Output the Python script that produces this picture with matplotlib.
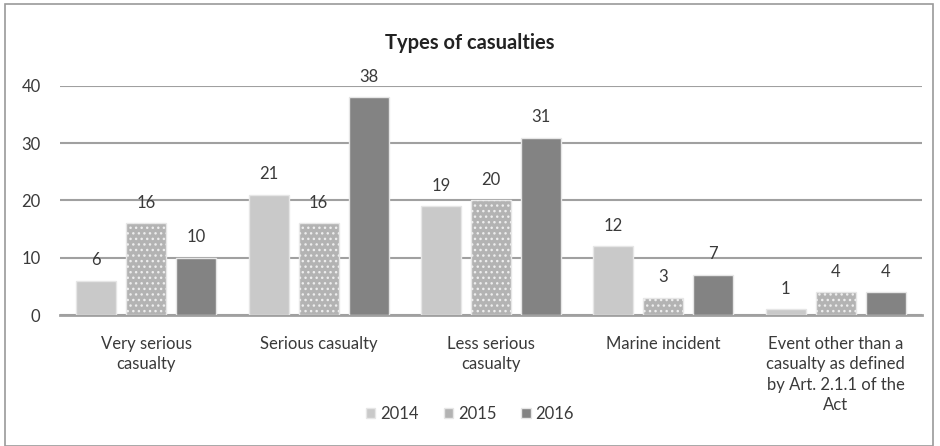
import numpy as np
import matplotlib
matplotlib.use("Agg")
import matplotlib.pyplot as plt
from matplotlib.patches import Rectangle

categories = ["Very serious\ncasualty", "Serious casualty", "Less serious\ncasualty",
              "Marine incident", "Event other than a\ncasualty as defined\nby Art. 2.1.1 of the\nAct"]
years = ["2014", "2015", "2016"]
v2014 = [6, 21, 19, 12, 1]
v2015 = [16, 16, 20, 3, 4]
v2016 = [10, 38, 31, 7, 4]

colors = ["#c9c9c9", "#b3b3b3", "#838383"]
text_color = "#3a3a3a"

plt.rcParams["font.family"] = ["Lato", "DejaVu Sans"]
plt.rcParams["hatch.linewidth"] = 1.0

fig = plt.figure(figsize=(9.4, 4.46), dpi=100)
fig.patches.append(Rectangle((5 / 940, 0), 928 / 940, 442 / 446, transform=fig.transFigure,
                             fill=False, edgecolor="#9a9a9a", linewidth=1.2))
ax = fig.add_axes([60 / 940, 1 - 315 / 446, 862 / 940, (315 - 86) / 446])

x = np.arange(len(categories))
width = 0.232
offset = 0.29
series = [v2014, v2015, v2016]

for i, (vals, c) in enumerate(zip(series, colors)):
    pos = x + (i - 1) * offset
    ax.bar(pos, vals, width=width, color=c, edgecolor="#e6e6e6", linewidth=1.0,
           label=years[i], zorder=3)
    if i == 1:
        ax.bar(pos, vals, width=width, facecolor="none", edgecolor="#ededed",
               hatch="...", linewidth=0, zorder=4)
    for p, v in zip(pos, vals):
        ax.text(p, v + 2.2, str(v), ha="center", va="bottom", fontsize=12,
                color=text_color, zorder=5)

ax.set_xlim(-0.5, 4.5)
ax.set_ylim(0, 40)
ax.set_yticks([0, 10, 20, 30, 40])
ax.yaxis.grid(True, color="#a0a0a0", linewidth=1.5, zorder=0)
ax.set_axisbelow(True)
for s in ["top", "right", "left"]:
    ax.spines[s].set_visible(False)
ax.spines["bottom"].set_color("#a0a0a0")
ax.spines["bottom"].set_linewidth(2)
ax.tick_params(axis="both", length=0, labelsize=12, colors=text_color)
ax.tick_params(axis="y", pad=14)
ax.tick_params(axis="x", pad=15)
ax.set_xticks(x)
ax.set_xticklabels(categories, va="top", linespacing=1.35)

fig.text(0.5, 1 - 43 / 446, "Types of casualties", ha="center", va="center",
         fontsize=14.5, fontweight="bold", color="#222222")

leg = fig.legend(loc="center", bbox_to_anchor=(0.5, 1 - 414 / 446), ncol=3, frameon=False,
                 fontsize=12, handlelength=0.55, handleheight=0.55, handletextpad=0.3,
                 columnspacing=1.5, labelcolor=text_color)

fig.savefig("out.png", dpi=100)
